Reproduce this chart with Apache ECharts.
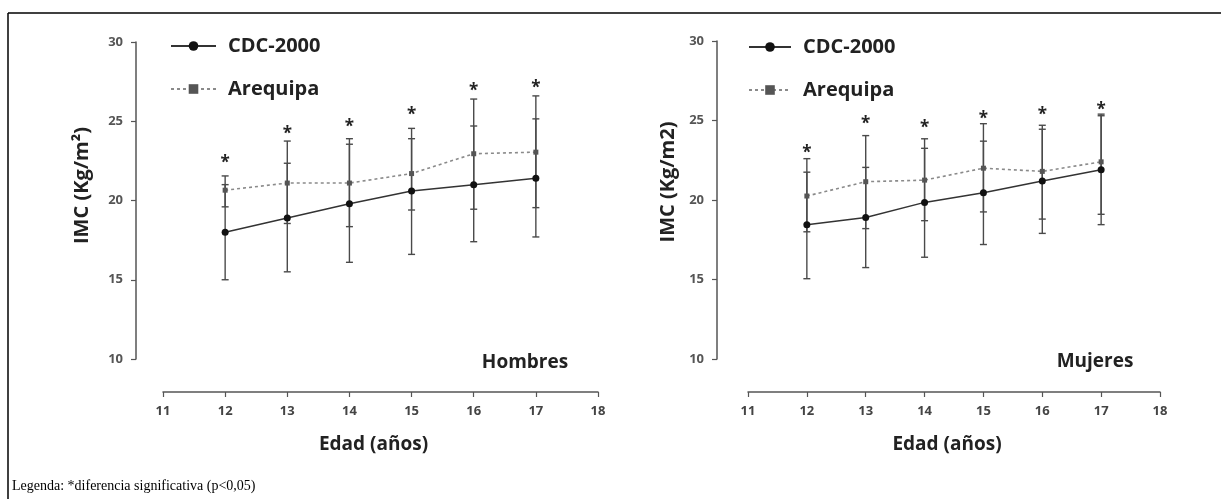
<!DOCTYPE html>
<html>
<head>
<meta charset="utf-8">
<script src="https://cdn.jsdelivr.net/npm/echarts@6/dist/echarts.min.js"></script>
<style>
html,body{margin:0;padding:0;background:#fff;}
#c{width:1221px;height:499px;}
</style>
</head>
<body>
<div id="c"></div>
<script>
// ---- data ----
var ages = [12, 13, 14, 15, 16, 17];
var seriesNames = ['CDC-2000', 'Arequipa'];
// Hombres
var hCdc      = [18.0, 18.9, 19.8, 20.6, 21.0, 21.4];
var hCdcLow   = [15.0, 15.5, 16.1, 16.6, 17.4, 17.7];
var hCdcHigh  = [21.0, 22.35, 23.55, 24.55, 24.7, 25.15];
var hAre      = [20.65, 21.1, 21.1, 21.7, 22.95, 23.05];
var hAreLow   = [19.6, 18.55, 18.35, 19.4, 19.45, 19.55];
var hAreHigh  = [21.55, 23.75, 23.9, 23.9, 26.4, 26.6];
var hStar     = [22.6, 24.45, 24.85, 25.65, 27.15, 27.35];
// Mujeres
var mCdc      = [18.45, 18.9, 19.85, 20.45, 21.2, 21.9];
var mCdcLow   = [15.05, 15.75, 16.4, 17.2, 17.9, 18.45];
var mCdcHigh  = [21.75, 22.05, 23.25, 23.7, 24.45, 25.3];
var mAre      = [20.25, 21.15, 21.25, 22.0, 21.8, 22.4];
var mAreLow   = [18.0, 18.2, 18.7, 19.25, 18.8, 19.1];
var mAreHigh  = [22.6, 24.05, 23.85, 24.8, 24.7, 25.4];
var mStar     = [23.2, 25.0, 24.8, 25.35, 25.6, 25.9];

var panelLabels = ['Hombres', 'Mujeres'];
var yNames = ['IMC (Kg/m\u00B2)', 'IMC (Kg/m2)'];
var xName = 'Edad (a\u00F1os)';
var footnote = 'Legenda: *diferencia significativa (p<0,05)';

// ---- helpers ----
function pairs(xs, ys) { return xs.map(function (x, i) { return [x, ys[i]]; }); }
function triples(xs, lo, hi) { return xs.map(function (x, i) { return [x, lo[i], hi[i]]; }); }

var FONT = '"Open Sans", "DejaVu Sans", sans-serif';

function errRender(params, api) {
  var x = api.value(0);
  var p1 = api.coord([x, api.value(1)]);
  var p2 = api.coord([x, api.value(2)]);
  var w = 3.5;
  var st = { stroke: '#4a4a4a', lineWidth: 1.4 };
  return {
    type: 'group',
    children: [
      { type: 'line', shape: { x1: p1[0], y1: p1[1], x2: p2[0], y2: p2[1] }, style: st },
      { type: 'line', shape: { x1: p1[0] - w, y1: p1[1], x2: p1[0] + w, y2: p1[1] }, style: st },
      { type: 'line', shape: { x1: p2[0] - w, y1: p2[1], x2: p2[0] + w, y2: p2[1] }, style: st }
    ]
  };
}
function starRender(params, api) {
  var p = api.coord([api.value(0), api.value(1)]);
  return {
    type: 'text',
    style: {
      text: '*', x: p[0], y: p[1] + 4,
      font: 'bold 17px ' + FONT, fill: '#222',
      align: 'center', verticalAlign: 'middle'
    }
  };
}

function axisPair(i, gridIdx, yOffset, yGap, yShift) {
  return {
    x: {
      type: 'value', gridIndex: gridIdx, min: 11, max: 18, interval: 1, offset: 33,
      name: xName, nameLocation: 'middle', nameGap: 43,
      nameTextStyle: { fontFamily: FONT, fontWeight: 'bold', fontSize: 19, color: '#222', padding: [0, 14, 0, 0] },
      axisLine: { show: true, onZero: false, lineStyle: { color: '#555', width: 1.5 } },
      axisTick: { show: true, length: 5, lineStyle: { color: '#555', width: 1.2 } },
      axisLabel: { margin: 13, fontFamily: FONT, fontWeight: 'bold', fontSize: 13, color: '#444' },
      splitLine: { show: false }
    },
    y: {
      type: 'value', gridIndex: gridIdx, min: 10, max: 30, interval: 5, offset: yOffset,
      name: yNames[i], nameLocation: 'middle', nameGap: yGap, nameRotate: 90,
      nameTextStyle: { fontFamily: FONT, fontWeight: 'bold', fontSize: 20, color: '#222', padding: [0, 0, 0, yShift] },
      axisLine: { show: true, lineStyle: { color: '#555', width: 1.5 } },
      axisTick: { show: true, length: 5, lineStyle: { color: '#555', width: 1.2 } },
      axisLabel: { margin: 13, fontFamily: FONT, fontWeight: 'bold', fontSize: 13, color: '#555' },
      splitLine: { show: false }
    }
  };
}

var ax0 = axisPair(0, 0, 27, 44, 30);
var ax1 = axisPair(1, 1, 31, 39, 36);

var panels = [
  { cdc: hCdc, cl: hCdcLow, ch: hCdcHigh, are: hAre, al: hAreLow, ah: hAreHigh, star: hStar },
  { cdc: mCdc, cl: mCdcLow, ch: mCdcHigh, are: mAre, al: mAreLow, ah: mAreHigh, star: mStar }
];

var series = [];
panels.forEach(function (p, k) {
  series.push({ type: 'custom', xAxisIndex: k, yAxisIndex: k, renderItem: errRender, data: triples(ages, p.al, p.ah), z: 1, silent: true });
  series.push({ type: 'custom', xAxisIndex: k, yAxisIndex: k, renderItem: errRender, data: triples(ages, p.cl, p.ch), z: 1, silent: true });
  series.push({
    name: seriesNames[1], type: 'line', xAxisIndex: k, yAxisIndex: k, data: pairs(ages, p.are),
    symbol: 'rect', symbolSize: 5, z: 3,
    itemStyle: { color: '#555' },
    lineStyle: { color: '#8a8a8a', width: 1.6, type: [3, 3] }
  });
  series.push({
    name: seriesNames[0], type: 'line', xAxisIndex: k, yAxisIndex: k, data: pairs(ages, p.cdc),
    symbol: 'circle', symbolSize: 7, z: 4,
    itemStyle: { color: '#111' },
    lineStyle: { color: '#333', width: 1.5 }
  });
  series.push({ type: 'custom', xAxisIndex: k, yAxisIndex: k, renderItem: starRender, data: pairs(ages, p.star), z: 5, silent: true });
});

function legend(left, top, w) {
  return {
    data: seriesNames, orient: 'vertical', left: left, top: top, padding: 0,
    itemWidth: w, itemHeight: 12, itemGap: 19, selectedMode: false,
    textStyle: { fontFamily: FONT, fontWeight: 'bold', fontSize: 20, color: '#222', lineHeight: 24, padding: [0, 0, 0, 7] }
  };
}

var option = {
  backgroundColor: '#fff',
  animation: false,
  grid: [
    { left: 163, top: 42, width: 435, height: 317 },
    { left: 748, top: 41, width: 412, height: 318 }
  ],
  xAxis: [ax0.x, ax1.x],
  yAxis: [ax0.y, ax1.y],
  legend: [legend(170, 34, 45), legend(748, 35, 42)],
  series: series,
  graphic: [
    { type: 'line', shape: { x1: 8, y1: 13, x2: 1221, y2: 13 }, style: { stroke: '#000', lineWidth: 1.5 } },
    { type: 'line', shape: { x1: 8, y1: 13, x2: 8, y2: 499 }, style: { stroke: '#000', lineWidth: 1.5 } },
    { type: 'text', x: 525, y: 363, style: { text: panelLabels[0], font: 'bold 19px ' + FONT, fill: '#222', align: 'center', verticalAlign: 'middle' } },
    { type: 'text', x: 1095, y: 362, style: { text: panelLabels[1], font: 'bold 19px ' + FONT, fill: '#222', align: 'center', verticalAlign: 'middle' } },
    { type: 'text', x: 12, y: 486, style: { text: footnote, font: '14px "Liberation Serif", "DejaVu Serif", serif', fill: '#000', align: 'left', verticalAlign: 'middle' } }
  ]
};

var chart = echarts.init(document.getElementById('c'));
chart.setOption(option);
</script>
</body>
</html>
